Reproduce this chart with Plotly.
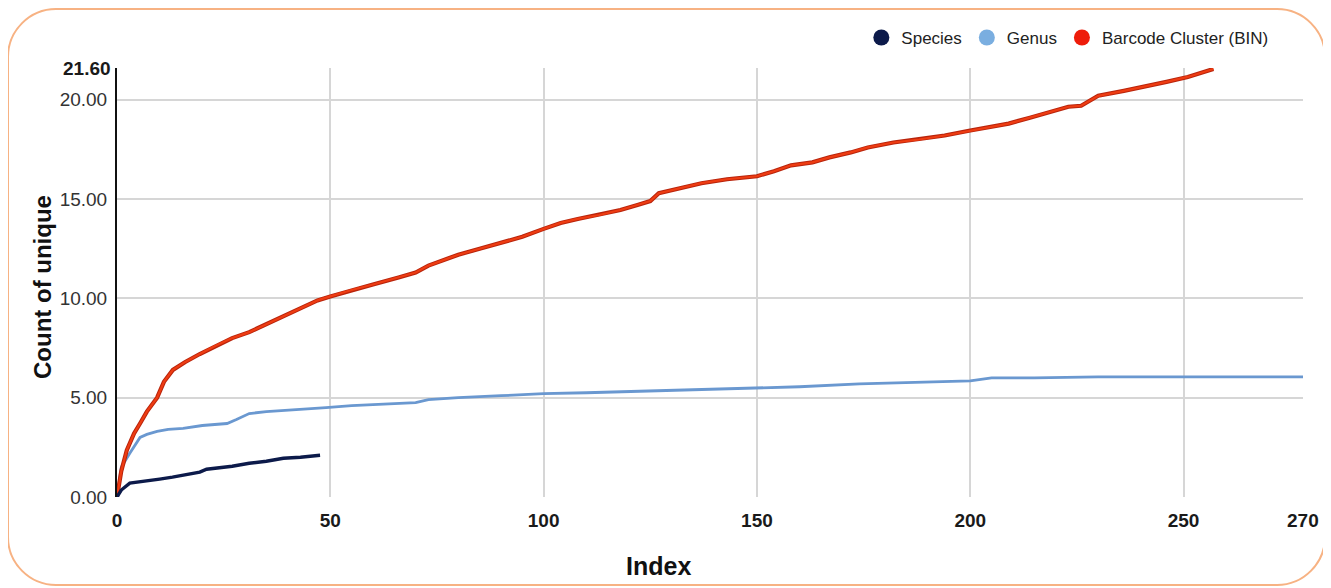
import plotly.graph_objects as go

# ---------------- data ----------------
bin_x = [0, 1, 2.3, 4, 5.4, 7, 9.4, 11, 13.1, 16, 19.4, 23, 27, 31, 35, 39, 43, 47, 50, 54.6, 60, 66, 70, 73, 80, 85, 90, 95,
         100, 104, 108, 113, 118, 122, 125, 127, 132, 137, 143, 150, 154, 158, 163, 167, 172, 176, 182, 188, 194, 200,
         205, 209, 214, 219, 223, 226, 230, 236, 242, 246, 251, 254, 257]
bin_y = [0, 1.3, 2.36, 3.2, 3.7, 4.3, 5.0, 5.8, 6.4, 6.8, 7.2, 7.6, 8.0, 8.3, 8.7, 9.1, 9.5, 9.9, 10.1, 10.4, 10.7, 11.05, 11.3,
         11.65, 12.2, 12.5, 12.8, 13.1, 13.5, 13.8, 14.0, 14.2, 14.45, 14.7, 14.9, 15.3, 15.55, 15.8, 16.0, 16.15, 16.4,
         16.7, 16.85, 17.1, 17.35, 17.6, 17.85, 18.0, 18.2, 18.45, 18.65, 18.8, 19.1, 19.4, 19.65, 19.7, 20.2, 20.45,
         20.7, 20.9, 21.15, 21.35, 21.55]

genus_x = [0, 1, 3, 5.4, 7, 9.4, 12, 15.5, 20, 25.8, 28, 31, 35, 39, 44, 49, 55, 60, 66, 70, 73, 80, 90, 100, 110, 118,
           130, 140, 150, 160, 174, 185, 200, 205, 215, 230, 240, 255, 278]
genus_y = [0, 1.5, 2.2, 3.0, 3.15, 3.3, 3.4, 3.45, 3.6, 3.7, 3.9, 4.2, 4.3, 4.35, 4.45, 4.5, 4.6, 4.65, 4.7, 4.75, 4.9,
           5.0, 5.1, 5.2, 5.25, 5.3, 5.4, 5.45, 5.5, 5.55, 5.7, 5.75, 5.85, 6.0, 6.0, 6.05, 6.05, 6.05, 6.05]

species_x = [0, 1, 3, 5, 7.7, 10, 13, 16, 19.4, 21, 23.4, 27, 31, 35, 39, 43, 47.6]
species_y = [0, 0.35, 0.7, 0.75, 0.85, 0.9, 1.0, 1.1, 1.25, 1.4, 1.45, 1.55, 1.7, 1.8, 1.95, 2.0, 2.1]

series_names = ["Species", "Genus", "Barcode Cluster (BIN)"]
x_tick_vals = [0, 50, 100, 150, 200, 250]
x_tick_text = ["0", "50", "100", "150", "200", "250"]
x_end_val, x_end_text = 278, "270"
y_tick_vals = [0, 5, 10, 15, 20]
y_tick_text = ["0.00", "5.00", "10.00", "15.00", "20.00"]
y_max_val, y_max_text = 21.6, "21.60"

# ---------------- styling ----------------
# the page puts the figure at (8, 8); positions below are in page pixels
OFF = 8
W, H = 1331 - OFF, 588 - OFF
PL, PT, PR, PB = 117, 68, 1303, 497          # plot area in page pixels
L, T = PL - OFF, PT - OFF
R, B = W - (PR - OFF), H - (PB - OFF)
PW, PH = PR - PL, PB - PT
col_species = "#0c1a4a"
col_genus = "#6a98d0"
col_bin_edge = "#b8240c"
col_bin = "#ee3c12"
font_fam = "Liberation Sans Narrow, Arial Narrow, Liberation Sans, Arial, sans-serif"
bold_fam = "Liberation Sans, Arial, sans-serif"


def px2paper(px, py):
    return (px - PL) / PW, (PB - py) / PH


fig = go.Figure()
fig.add_trace(go.Scatter(x=genus_x, y=genus_y, mode="lines", line=dict(color=col_genus, width=2.8),
                         showlegend=False, name=series_names[1]))
fig.add_trace(go.Scatter(x=bin_x, y=bin_y, mode="lines", line=dict(color=col_bin_edge, width=4.2),
                         showlegend=False, name=series_names[2], hoverinfo="skip"))
fig.add_trace(go.Scatter(x=bin_x, y=bin_y, mode="lines", line=dict(color=col_bin, width=2.2),
                         showlegend=False, name=series_names[2]))
fig.add_trace(go.Scatter(x=species_x, y=species_y, mode="lines", line=dict(color=col_species, width=3.4),
                         showlegend=False, name=series_names[0]))
for nm, c in zip(series_names, [col_species, "#7aaee0", "#ee1c0a"]):
    fig.add_trace(go.Scatter(x=[None], y=[None], mode="markers", name=nm,
                             marker=dict(color=c, size=17, symbol="circle")))

# rounded border
x0, y0, x1, y1, r = 8, 9, 1325, 585, 48
k = 0.55 * r


def P(px, py):
    a, b = px2paper(px, py)
    return f"{a:.5f},{b:.5f}"


path = (f"M {P(x0 + r, y0)} L {P(x1 - r, y0)} "
        f"C {P(x1 - r + k, y0)} {P(x1, y0 + r - k)} {P(x1, y0 + r)} "
        f"L {P(x1, y1 - r)} "
        f"C {P(x1, y1 - r + k)} {P(x1 - r + k, y1)} {P(x1 - r, y1)} "
        f"L {P(x0 + r, y1)} "
        f"C {P(x0 + r - k, y1)} {P(x0, y1 - r + k)} {P(x0, y1 - r)} "
        f"L {P(x0, y0 + r)} "
        f"C {P(x0, y0 + r - k)} {P(x0 + r - k, y0)} {P(x0 + r, y0)} Z")
fig.add_shape(type="path", path=path, xref="paper", yref="paper",
              line=dict(color="#f7b283", width=2), fillcolor="rgba(0,0,0,0)", layer="below")

fig.update_layout(
    width=W, height=H,
    margin=dict(l=L, r=R, t=T, b=B, autoexpand=False),
    paper_bgcolor="white", plot_bgcolor="white",
    font=dict(family=font_fam, color="#222222"),
    legend=dict(orientation="h", x=0.975, xanchor="right", y=1.07, yanchor="middle",
                font=dict(size=17, family=font_fam, color="#222222"), itemwidth=30,
                bgcolor="rgba(0,0,0,0)", tracegroupgap=0),
    xaxis=dict(range=[0, x_end_val], tickvals=x_tick_vals, ticktext=x_tick_text,
               showgrid=True, gridcolor="#d6d6d6", gridwidth=1.5, zeroline=False, showline=False,
               ticks="", ticklabelstandoff=10,
               tickfont=dict(size=19, family=font_fam, color="#1a1a1a", weight="bold")),
    yaxis=dict(range=[0, y_max_val], tickvals=y_tick_vals, ticktext=y_tick_text,
               showgrid=True, gridcolor="#d6d6d6", gridwidth=1.5, zeroline=False,
               showline=True, linecolor="#111111", linewidth=2, ticks="", ticklabelstandoff=4,
               tickfont=dict(size=19, family=font_fam, color="#333333")),
)

fig.add_annotation(x=x_end_val, y=0, xref="x", yref="y", text=f"<b>{x_end_text}</b>", showarrow=False,
                   xanchor="center", yanchor="top", yshift=-11,
                   font=dict(size=19, family=font_fam, color="#1a1a1a"))
fig.add_annotation(x=0, y=y_max_val, xref="x", yref="y", text=f"<b>{y_max_text}</b>", showarrow=False,
                   xanchor="right", yanchor="middle", xshift=-4,
                   font=dict(size=19, family=font_fam, color="#1a1a1a"))

tx, ty = px2paper(658, 566)
fig.add_annotation(x=tx, y=ty, xref="paper", yref="paper", text="<b>Index</b>", showarrow=False,
                   xanchor="center", yanchor="middle",
                   font=dict(size=25, family=bold_fam, color="#111111"))
yx, yy = px2paper(42, 287)
fig.add_annotation(x=yx, y=yy, xref="paper", yref="paper", text="<b>Count of unique</b>", showarrow=False,
                   textangle=-90, xanchor="center", yanchor="middle",
                   font=dict(size=24, family=bold_fam, color="#111111"))

fig.write_html("out.html")
